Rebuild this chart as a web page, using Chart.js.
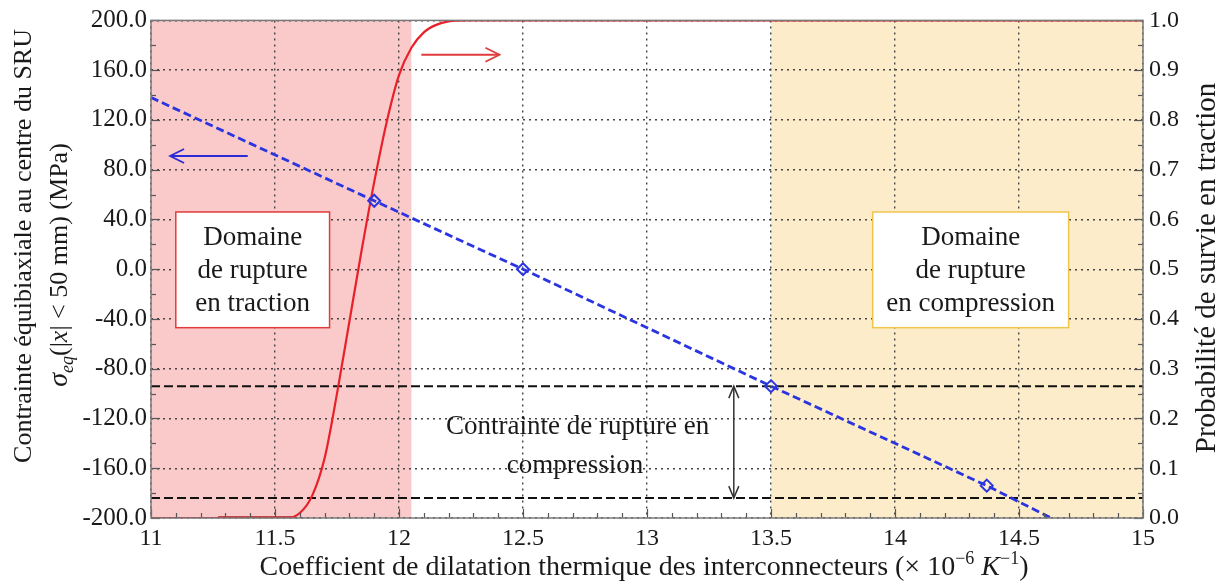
<!DOCTYPE html>
<html>
<head>
<meta charset="utf-8">
<script src="https://cdn.jsdelivr.net/npm/chart.js@4.4.1/dist/chart.umd.min.js"></script>
<style>
  html, body { margin: 0; padding: 0; background: #fff; }
  #wrap { width: 1226px; height: 582px; }
</style>
</head>
<body>
<div id="wrap"><canvas id="graphe"></canvas></div>
<script>
// contrainte équibiaxiale au centre du SRU (MPa) selon le coefficient de dilatation (1e-6 /K)
const alphaContrainte = [11.0, 11.9, 12.5, 13.5, 14.37, 14.63];
const contrainte = [138, 55, 0, -94, -174, -200];
// points calculés (marqueurs losange)
const alphaCalc = [11.9, 12.5, 13.5, 14.37];
const contrainteCalc = [55, 0, -94, -174];

// probabilité de survie en traction
const alphaProba = [11.0, 11.25, 11.55, 11.60, 11.65, 11.70, 11.75, 11.80, 11.85, 11.90, 11.95, 12.00, 12.05, 12.10, 12.15, 12.20, 12.27, 13.0, 14.0, 15.0];
const proba = [0, 0, 0, 0.01, 0.045, 0.12, 0.25, 0.395, 0.54, 0.675, 0.795, 0.89, 0.945, 0.976, 0.991, 0.998, 1, 1, 1, 1];
// portion épaisse de la courbe au pied
const alphaPied = [11.27, 11.57];
const probaPied = [0, 0];

// contrainte de rupture en compression (bornes, MPa)
const ruptureCompression = [-94, -184];

// domaines de rupture (axe des abscisses)
const domaineTraction = [11.0, 12.05];
const domaineCompression = [13.5, 15.0];

// graduations
const xTicks = [11, 11.5, 12, 12.5, 13, 13.5, 14, 14.5, 15];
const xTickLabels = ['11', '11.5', '12', '12.5', '13', '13.5', '14', '14.5', '15'];
const yTickLabels = ['-200.0', '-160.0', '-120.0', '-80.0', '-40.0', '0.0', '40.0', '80.0', '120.0', '160.0', '200.0'];
const y2TickLabels = ['0.0', '0.1', '0.2', '0.3', '0.4', '0.5', '0.6', '0.7', '0.8', '0.9', '1.0'];

const serif = '"Liberation Serif", "Times New Roman", serif';

function pts(xs, ys) {
  return xs.map((x, i) => ({ x: x, y: ys[i] }));
}

function drawRuns(ctx, runs, cx, cy, angle) {
  ctx.save();
  ctx.translate(cx, cy);
  ctx.rotate(angle);
  ctx.textBaseline = 'alphabetic';
  ctx.textAlign = 'left';
  let total = 0;
  runs.forEach(r => { ctx.font = r.font; total += ctx.measureText(r.t).width; });
  let x = -total / 2;
  runs.forEach(r => {
    ctx.font = r.font;
    ctx.fillText(r.t, x, 9 + (r.dy || 0));
    x += ctx.measureText(r.t).width;
  });
  ctx.restore();
}

function arrowHead(ctx, x, y, dx, dy, len, half) {
  // dx, dy : direction unitaire de la flèche
  const px = -dy, py = dx;
  ctx.beginPath();
  ctx.moveTo(x - dx * len + px * half, y - dy * len + py * half);
  ctx.lineTo(x, y);
  ctx.lineTo(x - dx * len - px * half, y - dy * len - py * half);
  ctx.stroke();
}

// zones colorées sous la grille
const zones = {
  id: 'zones',
  beforeDraw(chart) {
    const { ctx, chartArea: a, scales } = chart;
    ctx.save();
    let x0 = scales.x.getPixelForValue(domaineTraction[0]);
    let x1 = scales.x.getPixelForValue(domaineTraction[1]);
    ctx.fillStyle = '#fac9c9';
    ctx.fillRect(x0, a.top, x1 - x0, a.bottom - a.top);
    x0 = scales.x.getPixelForValue(domaineCompression[0]);
    x1 = scales.x.getPixelForValue(domaineCompression[1]);
    ctx.fillStyle = '#fdecca';
    ctx.fillRect(x0, a.top, x1 - x0, a.bottom - a.top);
    ctx.restore();
  }
};

// encadrés, flèches et textes
const annotations = {
  id: 'annotations',
  afterDatasetsDraw(chart) {
    const { ctx, scales } = chart;
    const X = v => scales.x.getPixelForValue(v);
    const Y = v => scales.y.getPixelForValue(v);
    const Y2 = v => scales.y2.getPixelForValue(v);
    ctx.save();

    const boxes = [
      { x: [11.1, 11.72], color: '#e23b3b', lines: ['Domaine', 'de rupture', 'en traction'] },
      { x: [13.91, 14.70], color: '#efc54c', lines: ['Domaine', 'de rupture', 'en compression'] }
    ];
    boxes.forEach(b => {
      const l = X(b.x[0]), r = X(b.x[1]), t = Y(46), bt = Y(-47);
      ctx.fillStyle = '#fff';
      ctx.fillRect(l, t, r - l, bt - t);
      ctx.strokeStyle = b.color;
      ctx.lineWidth = 1.5;
      ctx.strokeRect(l, t, r - l, bt - t);
      ctx.fillStyle = '#1a1a1a';
      ctx.font = '27px ' + serif;
      ctx.textAlign = 'center';
      ctx.textBaseline = 'middle';
      const cx = (l + r) / 2, cy = (t + bt) / 2;
      b.lines.forEach((s, i) => ctx.fillText(s, cx, cy + 1 + (i - 1) * 33));
    });

    // texte sur la contrainte de rupture
    ctx.fillStyle = '#1a1a1a';
    ctx.font = '27px ' + serif;
    ctx.textAlign = 'center';
    ctx.textBaseline = 'middle';
    ctx.fillText('Contrainte de rupture en', X(12.72), Y(-127));
    ctx.fillText('compression', X(12.71), Y(-158));

    // flèche double entre les deux bornes
    ctx.strokeStyle = '#333';
    ctx.lineWidth = 1.5;
    const ax = X(13.35), ay0 = Y(ruptureCompression[0]), ay1 = Y(ruptureCompression[1]);
    ctx.beginPath();
    ctx.moveTo(ax, ay0);
    ctx.lineTo(ax, ay1);
    ctx.stroke();
    arrowHead(ctx, ax, ay0, 0, -1, 12, 5);
    arrowHead(ctx, ax, ay1, 0, 1, 12, 5);

    // flèche bleue : axe de gauche
    ctx.strokeStyle = '#2b2bd8';
    ctx.lineWidth = 1.8;
    const bx0 = X(11.39), bx1 = X(11.077), by = Y(91);
    ctx.beginPath();
    ctx.moveTo(bx0, by);
    ctx.lineTo(bx1, by);
    ctx.stroke();
    arrowHead(ctx, bx1, by, -1, 0, 14, 7);

    // flèche rouge : axe de droite
    ctx.strokeStyle = '#e23b3b';
    const rx0 = X(12.09), rx1 = X(12.405), ry = Y2(0.931);
    ctx.beginPath();
    ctx.moveTo(rx0, ry);
    ctx.lineTo(rx1, ry);
    ctx.stroke();
    arrowHead(ctx, rx1, ry, 1, 0, 14, 7);

    ctx.restore();
  }
};

// cadre, graduations intérieures et titres des axes
const cadre = {
  id: 'cadre',
  afterDraw(chart) {
    const { ctx, chartArea: a, scales } = chart;
    ctx.save();
    ctx.strokeStyle = '#555';
    ctx.lineWidth = 1.2;
    for (let i = 0; i <= 40; i++) {
      const x = Math.round(scales.x.getPixelForValue(11 + i / 10)) + 0.5;
      ctx.beginPath();
      ctx.moveTo(x, a.bottom);
      ctx.lineTo(x, a.bottom - (i % 5 === 0 ? 9 : 5));
      ctx.stroke();
    }
    for (let v = -200; v <= 200; v += 20) {
      const y = Math.round(scales.y.getPixelForValue(v)) + 0.5;
      ctx.beginPath();
      ctx.moveTo(a.left, y);
      ctx.lineTo(a.left + (v % 40 === 0 ? 9 : 5), y);
      ctx.stroke();
    }
    for (let i = 0; i <= 20; i++) {
      const y = Math.round(scales.y2.getPixelForValue(i / 20)) + 0.5;
      ctx.beginPath();
      ctx.moveTo(a.right, y);
      ctx.lineTo(a.right - (i % 2 === 0 ? 9 : 5), y);
      ctx.stroke();
    }
    ctx.strokeStyle = '#7a7a7a';
    ctx.lineWidth = 1.5;
    ctx.strokeRect(a.left, a.top, a.right - a.left, a.bottom - a.top);

    ctx.fillStyle = '#1a1a1a';
    const f = '26px ' + serif, fi = 'italic 26px ' + serif;
    drawRuns(ctx, [{ t: 'Contrainte équibiaxiale au centre du SRU', font: f }], 22, 246, -Math.PI / 2);
    drawRuns(ctx, [
      { t: 'σ', font: 'italic 28px ' + serif },
      { t: 'eq', font: 'italic 18px ' + serif, dy: 6 },
      { t: '(|', font: f },
      { t: 'x', font: fi },
      { t: '| < 50 mm) (MPa)', font: f }
    ], 58, 265, -Math.PI / 2);
    drawRuns(ctx, [{ t: 'Probabilité de survie en traction', font: '29px ' + serif }], 1206, 268, -Math.PI / 2);
    const fb = '28px ' + serif, fbi = 'italic 28px ' + serif, fsup = '18px ' + serif;
    drawRuns(ctx, [
      { t: 'Coefficient de dilatation thermique des interconnecteurs (× 10', font: fb },
      { t: '−6', font: fsup, dy: -11 },
      { t: ' ', font: fb },
      { t: 'K', font: fbi },
      { t: '−1', font: fsup, dy: -11 },
      { t: ')', font: fb }
    ], 644, 566, 0);
    ctx.restore();
  }
};

new Chart(document.getElementById('graphe'), {
  type: 'line',
  data: {
    datasets: [
      {
        label: 'Contrainte',
        data: pts(alphaContrainte, contrainte),
        yAxisID: 'y',
        borderColor: '#2a35e0',
        borderWidth: 2.8,
        borderDash: [8, 4],
        pointRadius: 0,
        order: 0
      },
      {
        label: 'Points calculés',
        data: pts(alphaCalc, contrainteCalc),
        yAxisID: 'y',
        showLine: false,
        pointStyle: 'rectRot',
        pointRadius: 6,
        pointBorderWidth: 2,
        pointBorderColor: '#2a35e0',
        pointBackgroundColor: 'rgba(255,255,255,0.15)',
        order: 0
      },
      {
        label: 'Probabilité de survie',
        data: pts(alphaProba, proba),
        yAxisID: 'y2',
        borderColor: '#e8202a',
        borderWidth: 2.2,
        cubicInterpolationMode: 'monotone',
        pointRadius: 0,
        order: 1
      },
      {
        label: 'Pied',
        data: pts(alphaPied, probaPied),
        yAxisID: 'y2',
        borderColor: '#b01818',
        borderWidth: 3.5,
        pointRadius: 0,
        order: 1
      },
      {
        label: 'Rupture haute',
        data: pts([11, 15], [ruptureCompression[0], ruptureCompression[0]]),
        yAxisID: 'y',
        borderColor: '#111',
        borderWidth: 2,
        borderDash: [9, 4],
        pointRadius: 0,
        order: 2
      },
      {
        label: 'Rupture basse',
        data: pts([11, 15], [ruptureCompression[1], ruptureCompression[1]]),
        yAxisID: 'y',
        borderColor: '#111',
        borderWidth: 2,
        borderDash: [9, 4],
        pointRadius: 0,
        order: 2
      }
    ]
  },
  options: {
    responsive: true,
    maintainAspectRatio: false,
    animation: false,
    layout: { padding: { top: 19, left: 0, right: 0, bottom: 0 } },
    plugins: { legend: { display: false }, tooltip: { enabled: false } },
    scales: {
      x: {
        type: 'linear',
        min: 11,
        max: 15,
        afterFit: s => { s.height = 64; },
        afterBuildTicks: s => { s.ticks = xTicks.map(v => ({ value: v })); },
        ticks: {
          font: { family: serif, size: 24 },
          color: '#1a1a1a',
          padding: 6,
          maxRotation: 0,
          callback: (v, i) => xTickLabels[i]
        },
        grid: { color: '#444', lineWidth: 1.4, drawTicks: false },
        border: { display: false, dash: [2, 4] }
      },
      y: {
        position: 'left',
        min: -200,
        max: 200,
        afterFit: s => { s.width = 151; },
        ticks: {
          stepSize: 40,
          font: { family: serif, size: 25 },
          color: '#1a1a1a',
          padding: 4,
          callback: (v, i) => yTickLabels[i]
        },
        grid: { color: '#444', lineWidth: 1.4, drawTicks: false },
        border: { display: false, dash: [2, 4] }
      },
      y2: {
        position: 'right',
        min: 0,
        max: 1,
        afterFit: s => { s.width = 83; },
        ticks: {
          stepSize: 0.1,
          font: { family: serif, size: 24 },
          color: '#1a1a1a',
          padding: 6,
          callback: (v, i) => y2TickLabels[i]
        },
        grid: { drawOnChartArea: false, drawTicks: false },
        border: { display: false }
      }
    }
  },
  plugins: [zones, annotations, cadre]
});
</script>
</body>
</html>
